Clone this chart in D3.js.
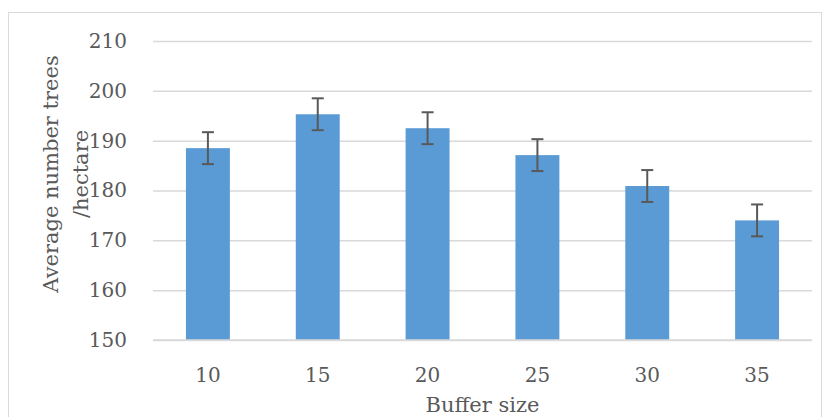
<!DOCTYPE html>
<html><head><meta charset="utf-8">
<script src="https://cdn.jsdelivr.net/npm/d3@7"></script>
<style>body{margin:0;background:#fff}svg{display:block}text{font-family:"DejaVu Serif",serif;fill:#595959}</style>
</head><body>
<svg id="c" width="826" height="417"></svg>
<script>
const categories = ["10","15","20","25","30","35"];
const values = [188.5, 195.3, 192.5, 187.1, 180.9, 174.0];
const errors = [3.2, 3.2, 3.2, 3.2, 3.2, 3.2];
const yTicks = [150,160,170,180,190,200,210];

const svg = d3.select("#c");
svg.append("rect").attr("x",8.5).attr("y",12.5).attr("width",813).attr("height",420)
  .attr("fill","#fff").attr("stroke","#d9d9d9").attr("stroke-width",1);

const L=153, R=812, T=41, B=340;
const x = d3.scaleBand().domain(categories).range([L,R]).paddingInner(0.6).paddingOuter(0.3);
const y = d3.scaleLinear().domain([150,210]).range([B,T]);

const yAxis = svg.append("g").attr("transform",`translate(${L},0)`)
  .call(d3.axisLeft(y).tickValues(yTicks).tickSize(-(R-L)).tickPadding(26));
yAxis.select(".domain").remove();
yAxis.selectAll("line").attr("stroke","#d9d9d9").attr("stroke-width",1.5);
yAxis.selectAll("text").attr("font-size",20).attr("font-family","DejaVu Serif").attr("fill","#595959");

svg.selectAll("rect.bar").data(values).join("rect").attr("class","bar")
  .attr("x",(d,i)=>x(categories[i])).attr("width",x.bandwidth())
  .attr("y",d=>y(d)).attr("height",d=>B-y(d)).attr("fill","#5B9BD5");

svg.append("line").attr("x1",L).attr("x2",R).attr("y1",B).attr("y2",B).attr("stroke","#d9d9d9").attr("stroke-width",1.5);

const eg = svg.append("g").attr("stroke","#595959").attr("stroke-width",2);
values.forEach((v,i)=>{
  const cx = x(categories[i])+x.bandwidth()/2;
  eg.append("line").attr("x1",cx).attr("x2",cx).attr("y1",y(v+errors[i])).attr("y2",y(v-errors[i]));
  eg.append("line").attr("x1",cx-6).attr("x2",cx+6).attr("y1",y(v+errors[i])).attr("y2",y(v+errors[i]));
  eg.append("line").attr("x1",cx-6).attr("x2",cx+6).attr("y1",y(v-errors[i])).attr("y2",y(v-errors[i]));
});

const xAxis = svg.append("g").attr("transform",`translate(0,${B})`)
  .call(d3.axisBottom(x).tickSize(0).tickPadding(28));
xAxis.select(".domain").remove();
xAxis.selectAll("text").attr("font-size",20).attr("font-family","DejaVu Serif").attr("fill","#595959");

svg.append("text").attr("x",(L+R)/2).attr("y",412).attr("text-anchor","middle")
  .attr("font-size",21).text("Buffer size");

const yl = svg.append("text").attr("transform","translate(58,174) rotate(-90)").attr("text-anchor","middle").attr("font-size",21);
yl.append("tspan").attr("x",0).attr("y",0).text("Average number trees");
yl.append("tspan").attr("x",0).attr("y",30).text("/hectare");
</script>
</body></html>
